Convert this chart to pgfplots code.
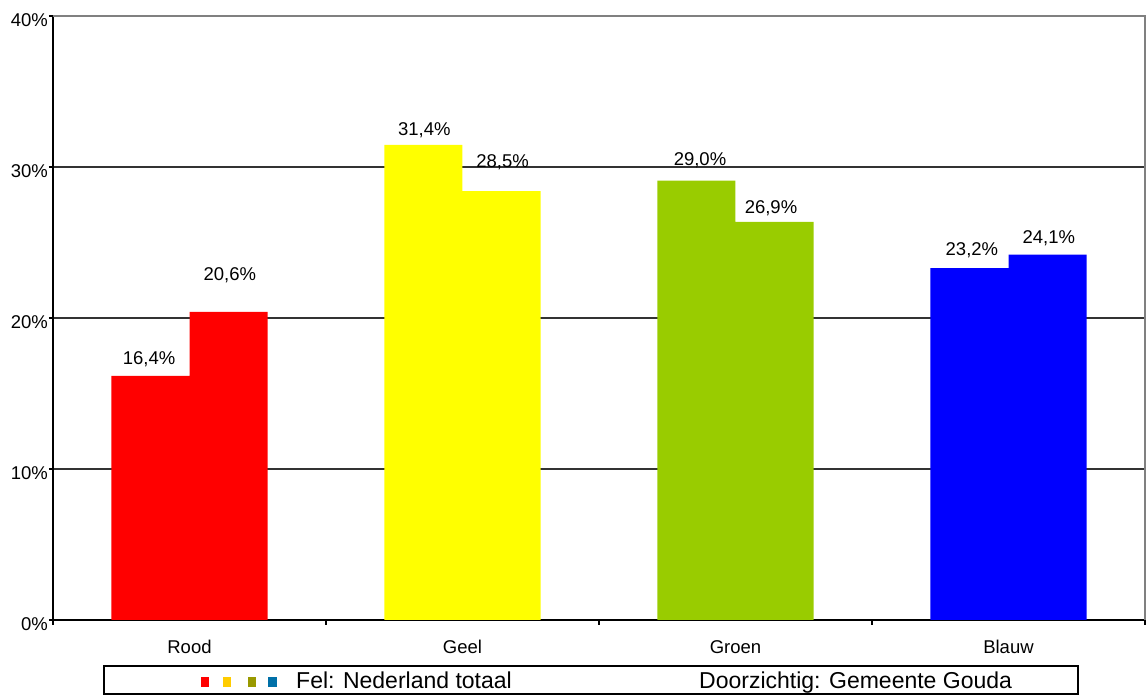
\documentclass[border=0pt]{standalone}
\usepackage{fontspec}
\setmainfont{Liberation Sans}
\usepackage{pgfplots}
\pgfplotsset{compat=1.18}
\definecolor{cred}{HTML}{FF0000}
\definecolor{cyellow}{HTML}{FFFF00}
\definecolor{cgreen}{HTML}{99CC00}
\definecolor{cblue}{HTML}{0000FF}
\definecolor{lgold}{HTML}{FFCC00}
\definecolor{lolive}{HTML}{999900}
\definecolor{lteal}{HTML}{0070A8}
\begin{document}
\begin{tikzpicture}[x=1pt,y=1pt]
\useasboundingbox (0,0) rectangle (1146,696);
\begin{axis}[
 at={(53pt,76pt)}, anchor=south west,
 scale only axis, width=1092pt, height=604pt,
 xmin=0, xmax=4, ymin=0, ymax=40,
 axis lines=left, axis line style={-, black, line width=1.3pt},
 xtick={0.5,1.5,2.5,3.5}, xticklabels={Rood,Geel,Groen,Blauw},
 major x tick style={draw=none},
 minor xtick={0,1,2,3,4},
 minor tick length=5pt, major tick length=4pt,
 tick align=outside,
 tick style={black, line width=1.2pt},
 ytick={0,10,20,30,40}, yticklabels={0\%,10\%,20\%,30\%,40\%},
 ymajorgrids, grid style={line width=1.2pt, color=black!80},
 tick label style={font=\fontsize{18.5}{21}\selectfont},
 yticklabel style={yshift=-4pt, inner sep=1pt},
 xticklabel style={yshift=-13pt},
 clip=false,
]
\addplot[ybar, bar width=0.2857, bar shift=0pt, fill=cred, draw=none] coordinates {(0.357,16.16) (0.643,20.4)};
\addplot[ybar, bar width=0.2857, bar shift=0pt, fill=cyellow, draw=none] coordinates {(1.357,31.46) (1.643,28.4)};
\addplot[ybar, bar width=0.2857, bar shift=0pt, fill=cgreen, draw=none] coordinates {(2.357,29.1) (2.643,26.36)};
\addplot[ybar, bar width=0.2857, bar shift=0pt, fill=cblue, draw=none] coordinates {(3.357,23.3) (3.643,24.2)};
\draw[gray, line width=1.3pt] (rel axis cs:0,1) -- (rel axis cs:1,1) -- (rel axis cs:1,0);
\addplot[draw=none, mark=none, point meta=explicit symbolic,
  nodes near coords={\pgfplotspointmeta\%},
  nodes near coords align={anchor=center},
  every node near coord/.append style={font=\fontsize{18.5}{21}\selectfont, anchor=center}]
  coordinates {(0.352,17.3)[16,4] (0.648,22.8)[20,6] (1.36,32.45)[31,4] (1.647,30.33)[28,5]
               (2.37,30.46)[29,0] (2.63,27.28)[26,9] (3.366,24.5)[23,2] (3.648,25.3)[24,1]};
\end{axis}
\draw[black, line width=1.3pt] (104,2) rectangle (1078,30);
\fill[cred] (201,9) rectangle (209,19);
\fill[lgold] (223,9) rectangle (231,19);
\fill[lolive] (248,9) rectangle (256,19);
\fill[lteal] (268,9) rectangle (277,19);
\node[anchor=base west, font=\fontsize{23}{26}\selectfont, inner sep=0pt] at (296,7) {Fel: Nederland totaal};
\node[anchor=base west, font=\fontsize{23}{26}\selectfont, inner sep=0pt] at (699,7) {Doorzichtig: Gemeente Gouda};
\end{tikzpicture}
\end{document}
